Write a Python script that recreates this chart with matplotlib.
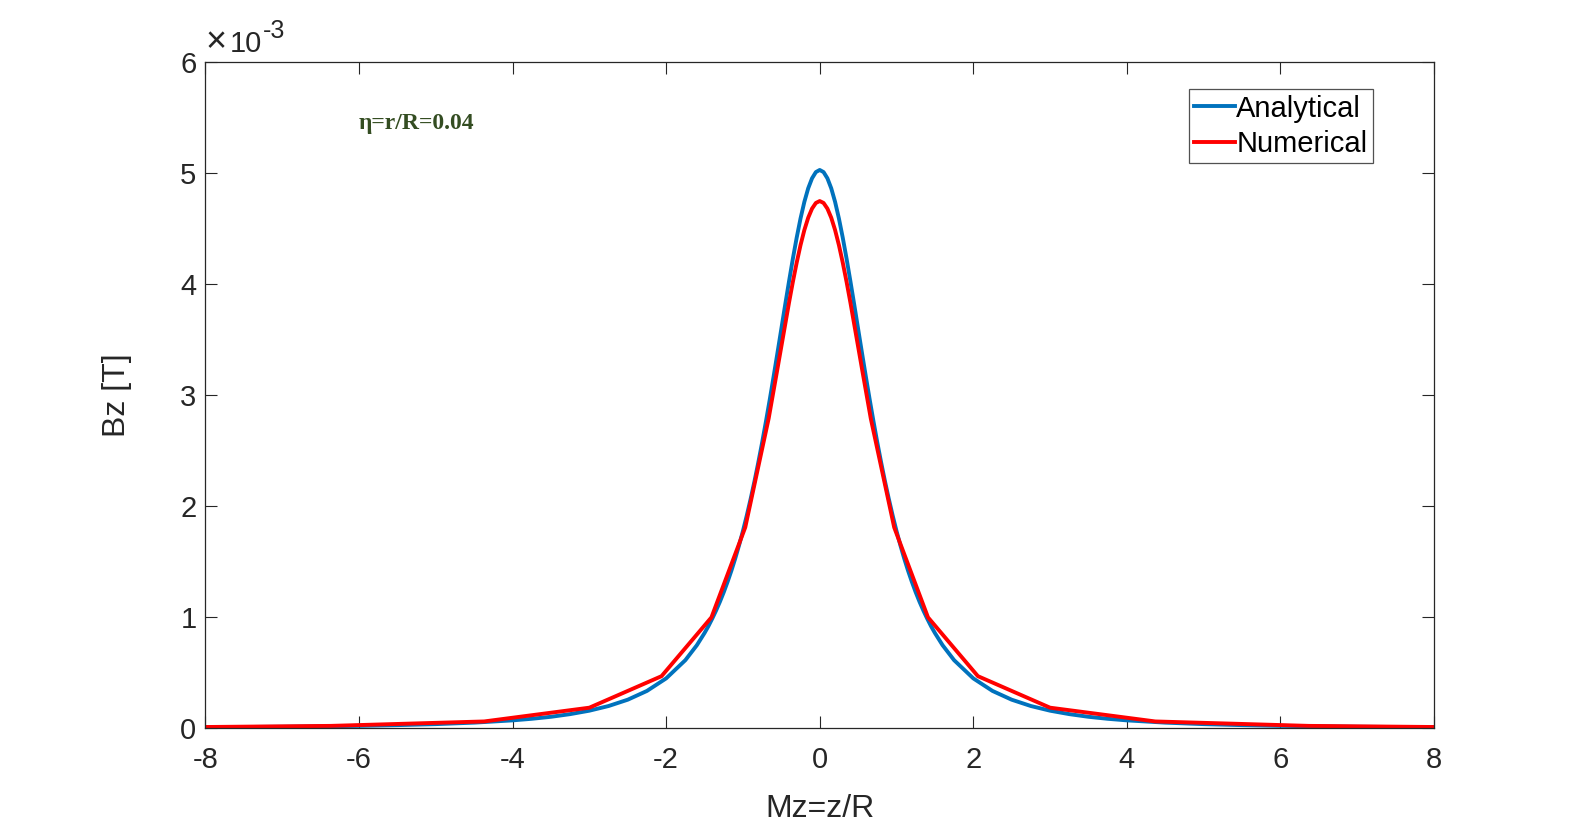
import matplotlib
matplotlib.use('Agg')
import matplotlib.pyplot as plt
import numpy as np

plt.rcParams['font.family'] = ['Liberation Sans', 'DejaVu Sans']
plt.rcParams['axes.unicode_minus'] = False

# values (z >= 0 half, curves are symmetric), Bz in 1e-3 T
z_an = [0.0, 0.05, 0.1, 0.15, 0.2, 0.25, 0.3, 0.35, 0.4, 0.45, 0.5, 0.55, 0.6,
        0.65, 0.7, 0.75, 0.8, 0.85, 0.9, 0.95, 1.0, 1.05, 1.1, 1.15, 1.2, 1.25,
        1.3, 1.35, 1.4, 1.45, 1.5, 1.6, 1.75, 2.0, 2.25, 2.5, 2.75, 3.0, 3.25,
        3.5, 3.75, 4.0, 4.5, 5.0, 5.5, 6.0, 7.0, 8.0]
bz_an = [5.030, 5.011, 4.955, 4.865, 4.743, 4.593, 4.420, 4.230, 4.026, 3.815,
         3.599, 3.384, 3.172, 2.965, 2.766, 2.575, 2.395, 2.225, 2.066, 1.917,
         1.778, 1.650, 1.531, 1.421, 1.320, 1.226, 1.140, 1.061, 0.988, 0.920,
         0.859, 0.749, 0.614, 0.450, 0.337, 0.258, 0.201, 0.159, 0.128, 0.104,
         0.0860, 0.0718, 0.0514, 0.0379, 0.0288, 0.0223, 0.0142, 0.0096]

z_num = [0.0, 0.05, 0.1, 0.15, 0.2, 0.25, 0.3, 0.35, 0.4, 0.456, 0.55, 0.665,
         0.97, 1.41, 2.06, 3.0, 4.37, 6.37, 8.0]
bz_num = [4.75, 4.733, 4.682, 4.600, 4.489, 4.353, 4.195, 4.021, 3.834, 3.613,
          3.241, 2.791, 1.81, 1.00, 0.47, 0.186, 0.062, 0.022, 0.012]


def mirror(z, b):
    z = np.asarray(z)
    b = np.asarray(b) * 1e-3
    return np.concatenate([-z[:0:-1], z]), np.concatenate([b[:0:-1], b])


xa, ya = mirror(z_an, bz_an)
xn, yn = mirror(z_num, bz_num)

W, H = 1584, 824
fig = plt.figure(figsize=(W / 100, H / 100), dpi=100, facecolor='white')
ax = fig.add_axes([0.1297, 0.1161, 0.7756, 0.8083])

ax.plot(xa, ya, color='#0072BD', lw=2.8, label='Analytical', solid_joinstyle='round')
ax.plot(xn, yn, color='#FF0000', lw=2.8, label='Numerical', solid_joinstyle='round')

ax.set_xlim(-8, 8)
ax.set_ylim(0, 6e-3)
ax.set_xticks(np.arange(-8, 9, 2))
ax.set_yticks(np.arange(0, 7, 1) * 1e-3)
ax.set_yticklabels([str(v) for v in range(7)])
ax.tick_params(direction='in', length=8.5, width=0.8, top=True, right=True,
               labelsize=21, colors='#262626')
ax.tick_params(axis='x', pad=13)
ax.tick_params(axis='y', pad=6.5)
for s in ax.spines.values():
    s.set_color('#262626')
    s.set_linewidth(0.9)

ax.set_xlabel('Mz=z/R', fontsize=23, color='#262626', labelpad=14)
ax.set_ylabel('Bz [T]', fontsize=23, color='#262626', labelpad=35)

# axis multiplier, MATLAB style
tx = fig.text(206 / W, 1 - 52 / H, '×', fontsize=26, color='#262626',
              ha='left', va='baseline', fontweight='light')
fig.canvas.draw()
bb = tx.get_window_extent()
t10 = fig.text((bb.x1 + 3) / W, 1 - 52 / H, '10', fontsize=21, color='#262626',
               ha='left', va='baseline')
fig.canvas.draw()
bb = t10.get_window_extent()
fig.text(bb.x1 / W, 1 - 38 / H, '-3', fontsize=18, color='#262626',
         ha='left', va='baseline')

ax.text(-6.0, 5.45e-3, 'η=r/R=0.04', family=['Liberation Serif', 'DejaVu Serif'],
        fontweight='bold', fontsize=17, color='#344d22', ha='left', va='center')

leg = ax.legend(loc='upper right', bbox_to_anchor=(0.950, 0.9595), fontsize=21,
                handlelength=1.4, handletextpad=0.05, borderpad=0.18,
                labelspacing=0.25, frameon=True, fancybox=False, borderaxespad=0)
leg.get_frame().set_edgecolor('#262626')
leg.get_frame().set_linewidth(0.9)

fig.savefig('out.png', dpi=100, facecolor='white')
